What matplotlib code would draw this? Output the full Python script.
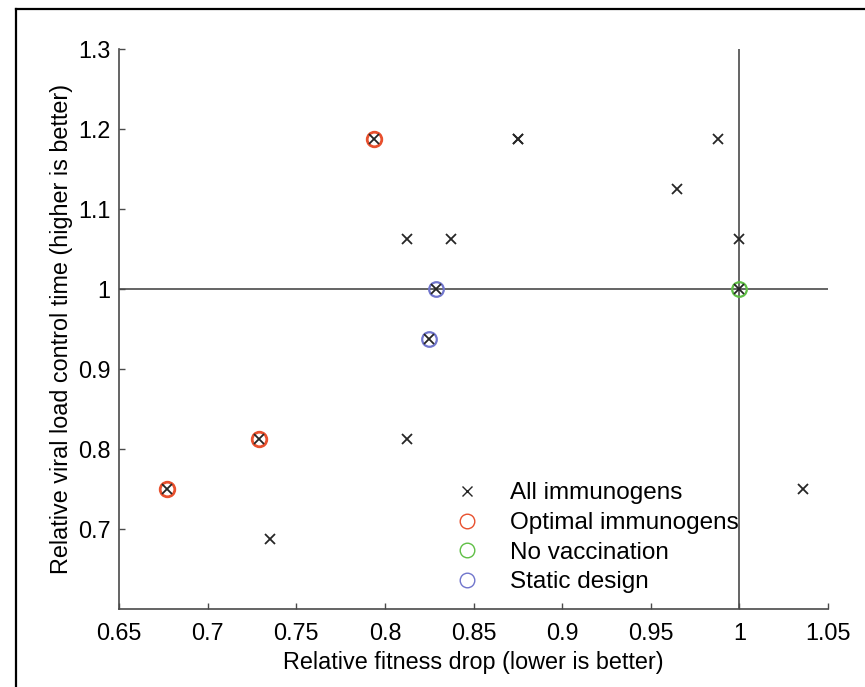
import matplotlib
matplotlib.use("Agg")
import matplotlib.pyplot as plt
from matplotlib.lines import Line2D

# data
all_x = [0.677, 0.729, 0.794, 0.735, 0.8125, 0.8125, 0.8375, 0.829, 0.825,
         0.875, 0.875, 0.965, 0.988, 1.0, 1.0, 1.036]
all_y = [0.75, 0.8125, 1.1875, 0.6875, 0.8125, 1.0625, 1.0625, 1.0, 0.9375,
         1.1875, 1.1875, 1.125, 1.1875, 1.0625, 1.0, 0.75]
optimal_x = [0.677, 0.729, 0.794]
optimal_y = [0.75, 0.8125, 1.1875]
novacc_x = [1.0]
novacc_y = [1.0]
static_x = [0.829, 0.825]
static_y = [1.0, 0.9375]

x_ticks = [0.65, 0.7, 0.75, 0.8, 0.85, 0.9, 0.95, 1.0, 1.05]
x_labels = ['0.65', '0.7', '0.75', '0.8', '0.85', '0.9', '0.95', '1', '1.05']
y_ticks = [0.7, 0.8, 0.9, 1.0, 1.1, 1.2, 1.3]
y_labels = ['0.7', '0.8', '0.9', '1', '1.1', '1.2', '1.3']

plt.rcParams['font.family'] = ['Liberation Sans', 'DejaVu Sans']
fs = 16.8

fig = plt.figure(figsize=(8.65, 6.87), dpi=100)
ax = fig.add_axes([0.1376, 0.1135, 0.8196, 0.8152])

line_col = '#4a4a4a'
ax.axhline(1.0, color=line_col, lw=1.2, zorder=1)
ax.axvline(1.0, color=line_col, lw=1.2, zorder=1)

ax.plot(all_x, all_y, 'x', color='#262626', ms=6.5, mew=1.3,
        label='All immunogens', zorder=3)
ax.plot(optimal_x, optimal_y, 'o', mfc='none', mec='#e8502e', ms=10.5, mew=2.0,
        label='Optimal immunogens', zorder=2)
ax.plot(novacc_x, novacc_y, 'o', mfc='none', mec='#5fbf45', ms=10.5, mew=1.6,
        label='No vaccination', zorder=2)
ax.plot(static_x, static_y, 'o', mfc='none', mec='#7075cc', ms=10.5, mew=1.6,
        label='Static design', zorder=2)

ax.set_xlim(0.65, 1.05)
ax.set_ylim(0.6, 1.3)
ax.set_xticks(x_ticks)
ax.set_xticklabels(x_labels)
ax.set_yticks(y_ticks)
ax.set_yticklabels(y_labels)

for side in ['top', 'right']:
    ax.spines[side].set_visible(False)
for side in ['left', 'bottom']:
    ax.spines[side].set_color(line_col)
    ax.spines[side].set_linewidth(1.2)
ax.tick_params(direction='in', length=4.5, width=1.0, color=line_col,
               labelsize=fs)
ax.tick_params(axis='x', pad=9)
ax.tick_params(axis='y', pad=6)

ax.set_xlabel('Relative fitness drop (lower is better)', fontsize=fs, labelpad=5)
ax.set_ylabel('Relative viral load control time (higher is better)',
              fontsize=fs, labelpad=4)

leg = ax.legend(loc='upper left', bbox_to_anchor=(0.474, 0.226), frameon=False,
                fontsize=17.5, handlelength=1.0, handletextpad=1.28,
                labelspacing=0.31, borderpad=0, borderaxespad=0)
for h in leg.legend_handles:
    h.set_markeredgewidth(1.0)

# frame from the original figure (top and left edges)
fig.add_artist(Line2D([16 / 865, 16 / 865], [0, 1 - 9 / 687], color='black',
                      lw=1.6, transform=fig.transFigure))
fig.add_artist(Line2D([16 / 865, 1], [1 - 9 / 687, 1 - 9 / 687], color='black',
                      lw=1.6, transform=fig.transFigure))

fig.savefig('out.png', dpi=100)
